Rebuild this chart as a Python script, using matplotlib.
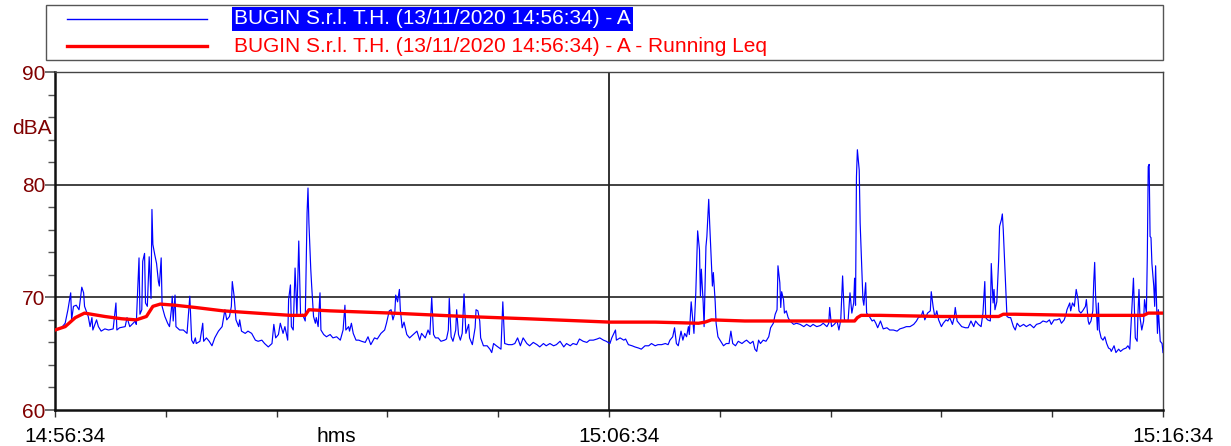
import matplotlib
matplotlib.use("Agg")
import matplotlib.pyplot as plt
from matplotlib.lines import Line2D
from matplotlib.patches import Rectangle
from matplotlib.ticker import MultipleLocator
from matplotlib.transforms import ScaledTranslation

plt.rcParams["font.family"] = ["Liberation Sans", "DejaVu Sans"]

# seconds after 14:56:34 and A-weighted level (dB)
time_s = [
    0, 7, 11, 14, 17, 18, 20, 23, 26, 27, 29, 31, 32, 36, 38, 40, 41, 45, 47, 50,
    54, 58, 63, 66, 67, 70, 76, 78, 81, 87, 88, 91, 92, 94, 95, 97, 98, 100, 102, 104,
    105, 106, 108, 110, 112, 113, 115, 116, 119, 122, 124, 126, 127, 128, 130, 131, 135, 139, 143, 146,
    148, 150, 152, 153, 157, 160, 161, 164, 167, 170, 173, 177, 181, 184, 186, 189, 191, 192, 194, 196,
    199, 200, 202, 206, 209, 213, 217, 220, 224, 227, 231, 235, 237, 239, 242, 244, 247, 249, 252, 253,
    255, 256, 258, 260, 262, 264, 266, 268, 271, 273, 274, 275, 277, 278, 280, 282, 283, 285, 287, 288,
    291, 294, 298,
    301, 305, 309, 312, 314, 315, 318, 319, 321, 323, 326, 329, 332, 336, 339, 342, 346, 349, 353, 357,
    359, 362, 364, 366, 368, 369, 371, 373, 374, 376, 378, 381, 384, 388, 392, 395, 397, 401, 404, 406,
    408, 410, 412, 415, 418, 422, 424, 426, 427, 429, 431, 434, 435, 437, 439, 441, 443,
    445, 448, 449, 452, 455, 456, 458, 460, 461, 464, 468, 471, 473, 475, 478, 483, 485, 487, 491, 495,
    498, 501, 504, 507, 511, 514, 518, 522, 525, 529, 532, 536, 540, 543, 547, 551, 554, 558, 561, 565,
    568, 572, 576, 579, 583, 587, 590, 594, 597, 601,
    603, 607, 608, 612, 616, 618, 621, 625, 628, 632, 635, 639, 643, 646, 650, 653, 657, 661, 664, 666,
    669, 671, 673, 675, 678, 680, 682, 684, 686, 687, 689, 691, 692, 694, 696, 698, 699, 700, 702, 703,
    705, 706, 708, 709, 711, 712, 713, 715, 716, 718, 721, 724, 727, 730, 732, 734, 737, 740, 744, 747,
    749, 753, 756, 758, 760, 762, 764, 767, 770, 773, 775, 778, 780, 782, 783, 785, 786, 787, 789, 790,
    792, 794, 796, 800, 803, 807, 811, 814, 818, 821, 825, 829, 832, 836, 838, 839, 841, 844, 847, 849,
    851, 853, 855, 857, 859, 861, 863, 865, 866, 867, 868, 869, 871, 872, 874, 875, 876, 878, 879, 882,
    885, 887, 889, 891, 894,
    897, 901, 904, 908, 912, 915, 919, 922, 926, 930, 933, 935, 938, 940, 942, 945, 948, 949, 951, 953,
    955, 957, 960, 962, 965, 967, 969, 972, 974, 975, 977, 979, 982, 986, 989, 992, 995, 997, 1000, 1003,
    1005, 1007, 1008, 1010, 1013, 1014, 1016, 1017, 1018, 1020, 1022, 1023, 1025, 1026, 1027, 1029, 1031, 1033, 1035, 1038,
    1040,
    1042, 1045, 1049, 1052, 1056, 1060, 1063, 1067, 1070, 1074, 1077, 1079, 1082, 1085, 1088, 1090, 1093, 1095, 1096, 1099,
    1100, 1102, 1104, 1106, 1108, 1109, 1111, 1113, 1116, 1117, 1119, 1120, 1122, 1124, 1125, 1126, 1127, 1129, 1130, 1131,
    1133, 1135, 1137, 1139, 1141, 1143, 1144, 1147, 1149, 1152, 1154, 1157, 1160, 1162, 1164, 1166, 1168, 1169, 1170, 1172,
    1173, 1174, 1175, 1177, 1179, 1180, 1182, 1183, 1184, 1185, 1186, 1187, 1188, 1190, 1191, 1192, 1193, 1194, 1195, 1197,
    1199, 1200,
]
level_db = [
    67.1, 67.3, 67.7, 68.9, 70.4, 68.0, 69.2, 69.3, 68.9, 69.5, 70.9, 70.4, 69.2, 68.3, 67.4, 68.2, 67.1, 68.0, 67.4, 67.0,
    67.2, 67.1, 67.2, 69.5, 67.1, 67.3, 67.4, 68.2, 67.4, 67.9, 67.6, 73.5, 68.5, 68.9, 73.2, 73.9, 69.5, 69.2, 73.6, 69.9,
    77.8, 74.7, 73.8, 73.0, 71.4, 71.0, 73.5, 69.2, 68.3, 67.7, 67.4, 68.9, 70.1, 67.9, 70.2, 67.4, 67.1, 67.1, 66.8, 70.1,
    66.2, 65.9, 66.4, 65.9, 66.1, 67.7, 66.1, 66.4, 66.1, 65.7, 66.4, 67.0, 67.4, 68.9, 68.0, 68.3, 69.2, 71.4, 70.1, 68.0,
    67.4, 68.0, 67.0, 66.8, 67.0, 66.8, 66.2, 66.1, 66.2, 65.9, 65.6, 65.9, 67.6, 66.4, 66.7, 67.7, 66.8, 67.4, 66.2, 69.8,
    71.1, 67.4, 67.1, 72.6, 68.3, 75.0, 68.3, 68.5, 67.9, 77.5, 79.7, 76.6, 72.5, 71.0, 68.3, 67.7, 68.2, 67.4, 70.4, 67.1,
    66.7, 66.5, 66.7,
    66.4, 66.5, 66.2, 67.1, 69.3, 67.1, 67.4, 67.0, 67.7, 66.8, 66.2, 66.2, 66.1, 66.0, 66.5, 65.8, 66.4, 66.3, 66.8, 67.1,
    67.7, 68.8, 68.9, 68.0, 68.6, 70.2, 69.6, 70.7, 68.9, 67.3, 67.8, 66.7, 66.4, 66.7, 67.0, 66.2, 66.8, 66.4, 67.1, 66.7,
    70.0, 66.7, 66.4, 66.4, 66.1, 66.2, 66.3, 67.1, 69.9, 66.5, 66.1, 67.1, 68.9, 66.7, 66.2, 66.8, 70.3,
    66.8, 67.6, 66.4, 65.8, 67.3, 68.9, 68.8, 67.9, 66.4, 65.7, 65.7, 65.4, 65.1, 65.9, 65.7, 65.4, 69.6, 65.9, 65.8, 65.8,
    65.9, 66.4, 65.7, 66.4, 65.9, 65.7, 66.0, 65.8, 65.6, 65.9, 65.7, 65.9, 65.7, 65.8, 66.1, 65.6, 65.9, 65.7, 65.9, 65.8,
    66.3, 66.1, 66.0, 66.2, 66.2, 66.3, 66.4, 66.2, 66.1, 65.9,
    66.4, 67.1, 66.2, 66.4, 66.2, 66.3, 65.8, 65.7, 65.6, 65.5, 65.4, 65.7, 65.7, 65.9, 65.7, 65.8, 65.8, 65.9, 65.8, 66.2,
    66.5, 67.3, 65.9, 65.7, 67.0, 66.2, 66.8, 66.5, 67.4, 66.7, 69.6, 67.7, 66.8, 70.4, 75.9, 74.2, 70.1, 72.5, 69.5, 67.4,
    74.5, 75.4, 78.7, 76.6, 73.0, 71.0, 72.2, 69.6, 67.7, 66.5, 66.1, 65.7, 65.9, 65.9, 67.0, 65.9, 65.7, 66.1, 65.9, 66.1,
    66.2, 65.9, 66.1, 65.4, 65.2, 66.2, 65.9, 66.2, 66.1, 66.5, 67.3, 67.7, 68.5, 68.9, 72.8, 71.3, 69.1, 70.5, 69.8, 68.6,
    68.8, 68.2, 67.9, 67.6, 67.7, 67.6, 67.4, 67.6, 67.4, 67.6, 67.4, 67.5, 67.7, 67.4, 67.7, 69.1, 67.4, 67.6, 67.9, 67.1,
    68.0, 71.9, 68.0, 67.9, 68.0, 70.4, 68.6, 69.5, 71.7, 69.3, 80.7, 83.1, 81.3, 76.6, 71.9, 69.8, 69.3, 71.3, 68.6, 68.3,
    67.9, 68.0, 67.7, 67.3, 67.9,
    67.2, 67.3, 67.1, 67.1, 67.0, 67.2, 67.3, 67.4, 67.4, 67.6, 67.9, 68.2, 68.3, 68.8, 68.0, 68.6, 68.8, 70.5, 69.2, 68.2,
    68.8, 68.0, 67.4, 67.7, 68.0, 67.9, 68.2, 67.6, 68.3, 69.1, 67.9, 67.7, 67.4, 67.3, 67.3, 67.9, 67.4, 67.9, 67.6, 67.4,
    68.6, 71.4, 68.2, 68.0, 67.9, 73.0, 69.5, 70.7, 68.9, 69.6, 73.3, 76.3, 76.9, 77.4, 76.0, 72.2, 68.3, 68.2, 68.2, 67.4,
    67.1,
    67.7, 67.4, 67.6, 67.4, 67.6, 67.3, 67.6, 67.7, 67.9, 67.8, 68.0, 67.6, 68.0, 68.0, 68.1, 67.7, 68.0, 68.5, 68.9, 69.5,
    68.8, 69.5, 69.2, 70.7, 69.8, 68.8, 68.6, 68.8, 69.2, 69.8, 67.9, 67.6, 67.9, 68.8, 71.4, 73.1, 70.1, 67.1, 69.5, 67.1,
    66.4, 66.2, 66.5, 65.9, 65.5, 65.4, 65.2, 65.7, 65.1, 65.4, 65.2, 65.4, 65.5, 65.7, 65.4, 68.6, 71.7, 68.9, 66.4, 66.1,
    68.8, 70.7, 68.3, 67.1, 67.9, 69.8, 68.6, 73.6, 81.6, 81.8, 75.4, 75.3, 73.0, 71.0, 69.2, 72.8, 69.5, 66.8, 68.9, 66.1,
    65.9, 65.1,
]

# running Leq (dB)
leq_time_s = [0, 11, 22, 32, 54, 72, 88, 99, 106, 114, 130, 152, 182, 218, 255, 271, 275, 298,
              365, 444, 511, 601, 650, 697, 704, 711, 747, 814, 866, 869, 873, 894, 960, 1022,
              1027, 1040, 1107, 1179, 1184, 1200]
leq_db = [67.1, 67.4, 68.2, 68.6, 68.3, 68.1, 68.0, 68.3, 69.2, 69.4, 69.3, 69.1, 68.8, 68.6, 68.4, 68.4, 68.9, 68.8,
          68.6, 68.3, 68.1, 67.8, 67.8, 67.7, 67.8, 68.0, 67.9, 67.9, 67.9, 68.2, 68.4, 68.4, 68.3, 68.3,
          68.5, 68.5, 68.4, 68.4, 68.6, 68.6]

x_ticks = list(range(0, 1201, 120))
x_tick_labels = ["14:56:34", "", "", "", "", "15:06:34", "", "", "", "", "15:16:34"]
y_ticks = [60, 70, 80, 90]

series_name = "BUGIN S.r.l. T.H. (13/11/2020 14:56:34) - A"
leq_name = series_name + " - Running Leq"

DARK_RED = "#800000"
FS = 15
W, H = 1231, 446

fig = plt.figure(figsize=(W / 100, H / 100), dpi=100)
ax = fig.add_axes([55 / W, 1 - 410 / H, (1163 - 55) / W, (410 - 72) / H])

ax.plot(time_s, level_db, color="#0000ff", lw=0.85, zorder=3)
ax.plot(leq_time_s, leq_db, color="#ff0000", lw=2.4, zorder=4)

ax.set_xlim(0, 1200)
ax.set_ylim(60, 90)

ax.set_xticks(x_ticks)
ax.set_xticklabels(x_tick_labels)
ax.set_yticks(y_ticks)
ax.yaxis.set_minor_locator(MultipleLocator(2))
ax.tick_params(axis="x", direction="out", length=5, width=1, color="#333333",
               labelsize=FS, pad=7)
ax.tick_params(axis="y", which="major", direction="out", length=7, width=1.2,
               color="#555555", labelsize=FS, labelcolor=DARK_RED, pad=0)
ax.tick_params(axis="y", which="minor", direction="out", length=5, width=1, color="#555555")

# the instrument software prints the time labels a little right of the tick
shift = ScaledTranslation(10 / 100, 0, fig.dpi_scale_trans)
for lab in ax.get_xticklabels():
    lab.set_transform(lab.get_transform() + shift)

for y in [70, 80]:
    ax.axhline(y, color="#333333", lw=1.3, zorder=2)
ax.axvline(600, color="#222222", lw=1.3, zorder=2)

for side in ["left", "bottom"]:
    ax.spines[side].set_linewidth(1.8)
    ax.spines[side].set_color("#111111")
for side in ["top", "right"]:
    ax.spines[side].set_linewidth(1.0)
    ax.spines[side].set_color("#444444")

ax.text(-0.003, 85.0, "dBA", transform=ax.get_yaxis_transform(), ha="right",
        va="center", color=DARK_RED, fontsize=FS)
ax.annotate("hms", xy=(300, 0), xycoords=("data", "axes fraction"),
            xytext=(3, -12), textcoords="offset points", ha="center", va="top",
            fontsize=FS)

# legend box drawn by hand to match the instrument software look
def fx(px):
    return px / W

def fy(py):
    return 1 - py / H

fig.add_artist(Rectangle((fx(46), fy(60)), fx(1163) - fx(46), fy(5) - fy(60),
                         fill=False, edgecolor="#555555", lw=1.0, transform=fig.transFigure))
fig.add_artist(Line2D([fx(67), fx(207)], [fy(19), fy(19)], color="#0000ff", lw=1.0,
                      transform=fig.transFigure))
fig.add_artist(Line2D([fx(67), fx(207)], [fy(46), fy(46)], color="#ff0000", lw=2.4,
                      transform=fig.transFigure))
fig.text(fx(234), fy(19), series_name, color="white", fontsize=FS, va="center", ha="left",
         bbox=dict(boxstyle="square,pad=0.1", facecolor="#0000ff", edgecolor="none"))
fig.text(fx(234), fy(46), leq_name, color="#ff0000", fontsize=FS, va="center", ha="left")

fig.savefig("out.png", dpi=100)
